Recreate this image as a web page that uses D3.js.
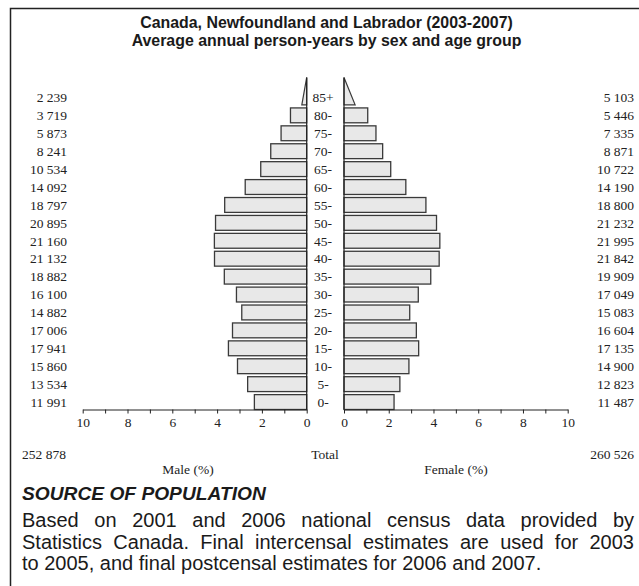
<!DOCTYPE html>
<html>
<head>
<meta charset="utf-8">
<script src="https://cdn.jsdelivr.net/npm/d3@7"></script>
<style>
    body { margin: 0; background: #fff; }
    .serif { font-family: "Liberation Serif", "Times New Roman", serif; font-size: 13.5px; fill: #222; }
    .sans { font-family: "Liberation Sans", Arial, sans-serif; fill: #1a1a1a; }
    .axis path, .axis line { stroke: #222; stroke-width: 1; }
    .axis text { font-family: "Liberation Serif", "Times New Roman", serif; font-size: 13.5px; fill: #222; }
</style>
</head>
<body>
<div id="pyramid"></div>
<script>
/* * * * * * * * * * * * * *
*      data from chart     *
* * * * * * * * * * * * * */

const ageGroups = ["0-", "5-", "10-", "15-", "20-", "25-", "30-", "35-", "40-",
    "45-", "50-", "55-", "60-", "65-", "70-", "75-", "80-", "85+"];

const maleCounts = [11991, 13534, 15860, 17941, 17006, 14882, 16100, 18882, 21132,
    21160, 20895, 18797, 14092, 10534, 8241, 5873, 3719, 2239];

const femaleCounts = [11487, 12823, 14900, 17135, 16604, 15083, 17049, 19909, 21842,
    21995, 21232, 18800, 14190, 10722, 8871, 7335, 5446, 5103];

const maleTotal = 252878;
const femaleTotal = 260526;

const tickValues = [0, 1, 2, 3, 4, 5, 6, 7, 8, 9, 10];
const tickLabels = [0, 2, 4, 6, 8, 10];

const titleLines = [
    "Canada, Newfoundland and Labrador (2003-2007)",
    "Average annual person-years by sex and age group"
];
const sourceTitle = "SOURCE OF POPULATION";
const sourceLines = [
    "Based on 2001 and 2006 national census data provided by",
    "Statistics Canada. Final intercensal estimates are used for 2003",
    "to 2005, and final postcensal estimates for 2006 and 2007."
];


class PyramidVis {

    constructor(parentElement) {
        this.parentElement = parentElement;
        this.initVis();
    }

    initVis() {
        let vis = this;

        vis.width = 639;
        vis.height = 586;

        vis.svg = d3.select("#" + vis.parentElement).append("svg")
            .attr("width", vis.width)
            .attr("height", vis.height);

        // frame (left + top only, the rest is cut off)
        vis.svg.append("path")
            .attr("d", "M10.5,586 V8.5 H639")
            .attr("fill", "none")
            .attr("stroke", "#222")
            .attr("stroke-width", 1.5);

        // titles
        vis.svg.selectAll(".title").data(titleLines).enter()
            .append("text")
            .attr("class", "title sans")
            .attr("x", 326.5)
            .attr("y", (d, i) => 28 + i * 18)
            .attr("text-anchor", "middle")
            .style("font-size", "15.9px")
            .style("font-weight", "bold")
            .text(d => d);

        // scales
        vis.xMale = d3.scaleLinear().domain([0, 10]).range([306.7, 82.7]);
        vis.xFemale = d3.scaleLinear().domain([0, 10]).range([344, 567.7]);
        vis.y = d3.scaleBand()
            .domain(ageGroups)
            .range([409.5, 90])
            .paddingInner(0.17)
            .paddingOuter(0);

        vis.axisY = 409.5;

        vis.wrangleData();
    }

    wrangleData() {
        let vis = this;

        let grand = maleTotal + femaleTotal;
        vis.rows = ageGroups.map((age, i) => ({
            age: age,
            male: maleCounts[i],
            female: femaleCounts[i],
            malePct: maleCounts[i] / grand * 100,
            femalePct: femaleCounts[i] / grand * 100
        }));

        vis.updateVis();
    }

    updateVis() {
        let vis = this;
        let fmt = d3.formatLocale({decimal: ".", thousands: " ", grouping: [3], currency: ["", ""]}).format(",");
        let bw = vis.y.bandwidth();
        let mid = 323;

        let closed = vis.rows.filter(d => d.age !== "85+");
        let open = vis.rows.filter(d => d.age === "85+")[0];

        // male bars
        vis.svg.selectAll(".male-rect").data(closed).enter()
            .append("rect")
            .attr("class", "male-rect")
            .attr("x", d => vis.xMale(d.malePct))
            .attr("y", d => vis.y(d.age))
            .attr("width", d => vis.xMale(0) - vis.xMale(d.malePct))
            .attr("height", bw)
            .attr("fill", "#e8e8e8")
            .attr("stroke", "#3a3a3a")
            .attr("stroke-width", 1.3);

        // female bars
        vis.svg.selectAll(".female-rect").data(closed).enter()
            .append("rect")
            .attr("class", "female-rect")
            .attr("x", vis.xFemale(0))
            .attr("y", d => vis.y(d.age))
            .attr("width", d => vis.xFemale(d.femalePct) - vis.xFemale(0))
            .attr("height", bw)
            .attr("fill", "#e8e8e8")
            .attr("stroke", "#3a3a3a")
            .attr("stroke-width", 1.3);

        // open-ended 85+ group drawn as a triangle
        let base = vis.y(open.age) + bw;
        let tip = vis.y(open.age) - vis.y.step() * 0.7;
        vis.svg.append("path")
            .attr("d", `M${vis.xMale(0)},${tip} L${vis.xMale(open.malePct / 2)},${base} L${vis.xMale(0)},${base} Z`)
            .attr("fill", "#e8e8e8")
            .attr("stroke", "#3a3a3a")
            .attr("stroke-width", 1.2);
        vis.svg.append("path")
            .attr("d", `M${vis.xFemale(0)},${tip} L${vis.xFemale(open.femalePct / 2)},${base} L${vis.xFemale(0)},${base} Z`)
            .attr("fill", "#e8e8e8")
            .attr("stroke", "#3a3a3a")
            .attr("stroke-width", 1.2);

        // zero lines
        [vis.xMale(0), vis.xFemale(0)].forEach(x => {
            vis.svg.append("line")
                .attr("x1", x).attr("x2", x)
                .attr("y1", tip).attr("y2", vis.axisY)
                .attr("stroke", "#222")
                .attr("stroke-width", 1.2);
        });

        // x axes
        let fmtTick = d => tickLabels.includes(d) ? d : "";
        vis.svg.append("g")
            .attr("class", "axis")
            .attr("transform", `translate(0, ${vis.axisY})`)
            .call(d3.axisBottom(vis.xMale).tickValues(tickValues).tickFormat(fmtTick)
                .tickSize(4).tickSizeOuter(0).tickPadding(4));
        vis.svg.append("g")
            .attr("class", "axis")
            .attr("transform", `translate(0, ${vis.axisY})`)
            .call(d3.axisBottom(vis.xFemale).tickValues(tickValues).tickFormat(fmtTick)
                .tickSize(4).tickSizeOuter(0).tickPadding(4));

        // age labels
        vis.svg.selectAll(".age-text").data(vis.rows).enter()
            .append("text")
            .attr("class", "age-text serif")
            .attr("x", mid)
            .attr("y", d => vis.y(d.age) + bw / 2)
            .attr("dy", "0.35em")
            .attr("text-anchor", "middle")
            .text(d => d.age);

        // counts
        vis.svg.selectAll(".male-count").data(vis.rows).enter()
            .append("text")
            .attr("class", "male-count serif")
            .attr("x", 67)
            .attr("y", d => vis.y(d.age) + bw / 2)
            .attr("dy", "0.35em")
            .attr("text-anchor", "end")
            .text(d => fmt(d.male));
        vis.svg.selectAll(".female-count").data(vis.rows).enter()
            .append("text")
            .attr("class", "female-count serif")
            .attr("x", 634)
            .attr("y", d => vis.y(d.age) + bw / 2)
            .attr("dy", "0.35em")
            .attr("text-anchor", "end")
            .text(d => fmt(d.female));

        // totals + axis titles
        vis.svg.append("text").attr("class", "serif")
            .attr("x", 22).attr("y", 454).attr("dy", "0.35em")
            .text(fmt(maleTotal));
        vis.svg.append("text").attr("class", "serif")
            .attr("x", 325).attr("y", 454).attr("dy", "0.35em")
            .attr("text-anchor", "middle")
            .text("Total");
        vis.svg.append("text").attr("class", "serif")
            .attr("x", 634).attr("y", 454).attr("dy", "0.35em")
            .attr("text-anchor", "end")
            .text(fmt(femaleTotal));
        vis.svg.append("text").attr("class", "serif")
            .attr("x", 188).attr("y", 469).attr("dy", "0.35em")
            .attr("text-anchor", "middle")
            .text("Male (%)");
        vis.svg.append("text").attr("class", "serif")
            .attr("x", 456).attr("y", 469).attr("dy", "0.35em")
            .attr("text-anchor", "middle")
            .text("Female (%)");

        // source block
        vis.svg.append("text").attr("class", "sans")
            .attr("x", 22).attr("y", 500)
            .style("font-size", "19.2px")
            .style("font-weight", "bold")
            .style("font-style", "italic")
            .text(sourceTitle);

        sourceLines.forEach((line, i) => {
            let y = 527 + i * 21.5;
            if (i === sourceLines.length - 1) {
                vis.svg.append("text").attr("class", "sans")
                    .attr("x", 22).attr("y", y)
                    .style("font-size", "20px")
                    .text(line);
                return;
            }
            // justify the line between x=22 and x=634
            let words = line.split(" ");
            let nodes = words.map(w => vis.svg.append("text").attr("class", "sans")
                .attr("y", y).style("font-size", "20px").text(w));
            let widths = nodes.map(n => n.node().getComputedTextLength());
            let gap = (634 - 22 - d3.sum(widths)) / (words.length - 1);
            let x = 22;
            nodes.forEach((n, j) => {
                n.attr("x", x);
                x += widths[j] + gap;
            });
        });
    }
}

let myPyramidVis = new PyramidVis("pyramid");
</script>
</body>
</html>
